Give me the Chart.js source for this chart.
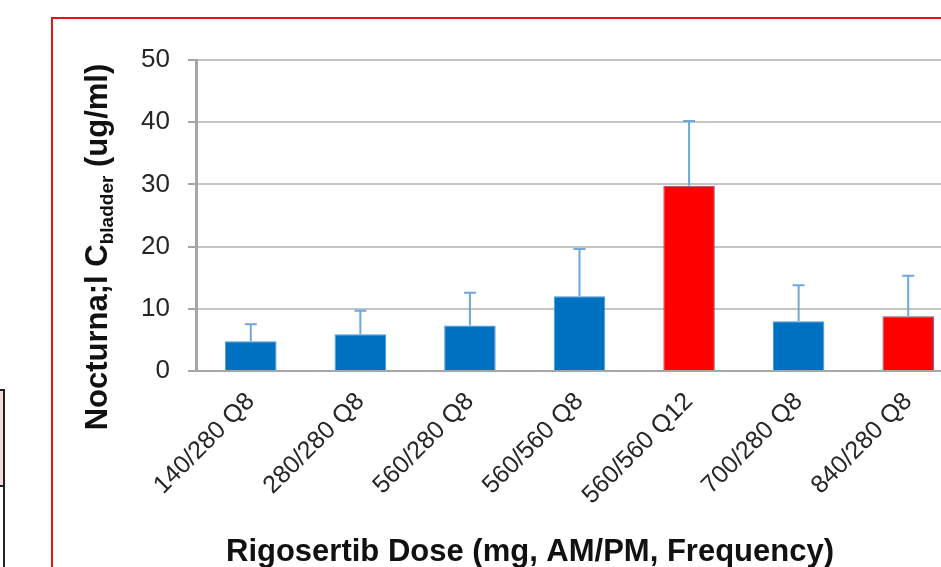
<!DOCTYPE html>
<html>
<head>
<meta charset="utf-8">
<script src="https://cdn.jsdelivr.net/npm/chart.js@4.4.1/dist/chart.umd.min.js"></script>
<style>
  html, body { margin: 0; padding: 0; background: #fff; overflow: hidden; }
  body { width: 941px; height: 567px; position: relative; }
  #chart { position: absolute; left: 0; top: 0; }
  /* red frame around the figure */
  .frame { position: absolute; left: 51px; top: 17px; width: 1000px; height: 700px;
           border: 2px solid #e31414; box-sizing: border-box; pointer-events: none; }
  /* sliver of a neighbouring table at the left edge */
  .tbl { position: absolute; left: -4px; top: 389px; width: 9px; height: 300px;
         border: 2px solid #222; box-sizing: border-box; }
  .tbl-cell { position: absolute; left: 0; top: 0; width: 100%; height: 96px;
              background: #f2dcdb; border-bottom: 2px solid #222; box-sizing: border-box; }
</style>
</head>
<body>
<div class="tbl"><div class="tbl-cell"></div></div>
<canvas id="chart" width="1000" height="567"></canvas>
<div class="frame"></div>
<script>
// Nocturnal bladder concentration by rigosertib dose
const doses = ['140/280 Q8', '280/280 Q8', '560/280 Q8', '560/560 Q8',
               '560/560 Q12', '700/280 Q8', '840/280 Q8'];
const meanConc = [4.8, 5.9, 7.3, 12.0, 29.8, 8.0, 8.8];
const errUpper = [2.7, 3.8, 5.3, 7.6, 10.4, 5.8, 6.5];
const barColors = ['#0070c0', '#0070c0', '#0070c0', '#0070c0', '#ff0000', '#0070c0', '#ff0000'];
const yTicks = [0, 10, 20, 30, 40, 50];

const FONT = '"Liberation Sans", Arial, sans-serif';

// upper-only error bars with a small cap
const errorBars = {
    id: 'errorBars',
    afterDatasetsDraw(chart) {
        const ctx = chart.ctx;
        const meta = chart.getDatasetMeta(0);
        const y = chart.scales.y;
        ctx.save();
        ctx.strokeStyle = '#6fa8dc';
        ctx.lineWidth = 2;
        meta.data.forEach((bar, i) => {
            const top = y.getPixelForValue(meanConc[i] + errUpper[i]);
            const base = y.getPixelForValue(meanConc[i]);
            ctx.beginPath();
            ctx.moveTo(bar.x, base);
            ctx.lineTo(bar.x, top);
            ctx.moveTo(bar.x - 6, top);
            ctx.lineTo(bar.x + 6, top);
            ctx.stroke();
        });
        ctx.restore();
    }
};

// axis titles drawn by hand so the subscript can be shown
const axisTitles = {
    id: 'axisTitles',
    afterDraw(chart) {
        const ctx = chart.ctx;
        const area = chart.chartArea;
        ctx.save();
        ctx.fillStyle = '#111';
        ctx.textBaseline = 'alphabetic';

        // x title
        ctx.font = 'bold 31px ' + FONT;
        ctx.textAlign = 'center';
        ctx.fillText('Rigosertib Dose (mg, AM/PM, Frequency)', area.left + 334, area.bottom + 190);

        // y title, rotated
        const parts = [
            { t: 'Nocturna;l C', size: 31, dy: 0 },
            { t: 'bladder', size: 19, dy: 6 },
            { t: ' (ug/ml)', size: 31, dy: 0 }
        ];
        let total = 0;
        parts.forEach(p => { ctx.font = 'bold ' + p.size + 'px ' + FONT; p.w = ctx.measureText(p.t).width; total += p.w; });
        ctx.translate(area.left - 99, area.top + 187);
        ctx.rotate(-Math.PI / 2);
        ctx.textAlign = 'left';
        let x = -total / 2;
        parts.forEach(p => {
            ctx.font = 'bold ' + p.size + 'px ' + FONT;
            ctx.fillText(p.t, x, 10 + p.dy);
            x += p.w;
        });
        ctx.restore();
    }
};

new Chart(document.getElementById('chart'), {
    type: 'bar',
    data: {
        labels: doses,
        datasets: [{
            data: meanConc,
            backgroundColor: barColors,
            borderColor: barColors.map(c => c === '#ff0000' ? '#7d5a8c' : '#4a94d6'),
            borderWidth: 1,
            categoryPercentage: 1,
            barPercentage: 0.47
        }]
    },
    options: {
        responsive: false,
        animation: false,
        devicePixelRatio: 1,
        layout: { padding: { top: 60, right: 37, left: 0, bottom: 0 } },
        plugins: { legend: { display: false }, tooltip: { enabled: false } },
        scales: {
            x: {
                grid: { display: false },
                border: { display: true, color: '#a6a6a6', width: 2 },
                ticks: {
                    autoSkip: false,
                    minRotation: 45,
                    maxRotation: 45,
                    color: '#262626',
                    padding: 8,
                    font: { family: FONT, size: 25 }
                },
                afterFit(scale) { scale.height = 196; }
            },
            y: {
                min: 0,
                max: 50,
                afterBuildTicks(scale) { scale.ticks = yTicks.map(v => ({ value: v })); },
                grid: { color: '#c4c4c4', lineWidth: 2, tickLength: 8, tickColor: '#a6a6a6' },
                border: { display: true, color: '#a6a6a6', width: 3 },
                ticks: {
                    color: '#262626',
                    padding: 18,
                    font: { family: FONT, size: 26 }
                },
                afterFit(scale) { scale.width = 196; }
            }
        }
    },
    plugins: [errorBars, axisTitles]
});
</script>
</body>
</html>
